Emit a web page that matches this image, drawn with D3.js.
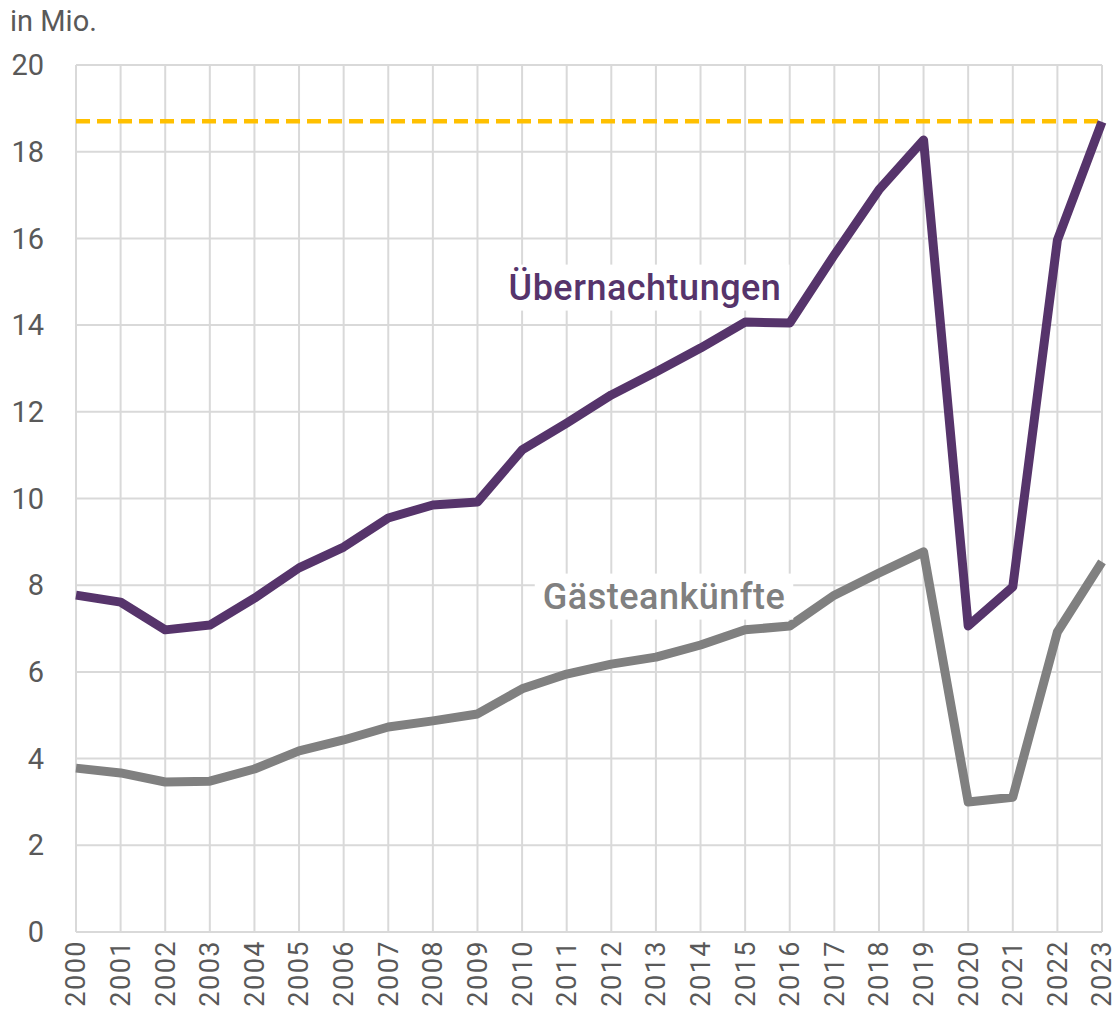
<!DOCTYPE html>
<html>
<head>
    <meta charset="UTF-8">
    <title>Übernachtungen und Gästeankünfte</title>
    <script src="https://d3js.org/d3.v7.min.js"></script>
    <style>
        body { margin: 0; padding: 0; background: #fff; font-family: Roboto, "Noto Sans", Arial, sans-serif; }
        svg { display: block; }
        .grid line { stroke: #d9d9d9; stroke-width: 2px; }
        .tick-label { fill: #595959; font-size: 29px; }
    </style>
</head>
<body>
    <svg id="chart" width="1112" height="1011"></svg>
    <script>
        // Daten (in Mio.)
        const years = d3.range(2000, 2024);
        const uebernachtungen = [7.77, 7.61, 6.97, 7.08, 7.70, 8.40, 8.88, 9.55, 9.85, 9.92,
            11.12, 11.74, 12.39, 12.92, 13.47, 14.07, 14.05, 15.62, 17.12, 18.27,
            7.06, 7.96, 15.96, 18.69];
        const gaesteankuenfte = [3.78, 3.67, 3.46, 3.48, 3.76, 4.18, 4.43, 4.73, 4.87, 5.03,
            5.61, 5.95, 6.18, 6.34, 6.62, 6.97, 7.06, 7.77, 8.28, 8.77,
            3.00, 3.11, 6.92, 8.54];
        const rekord = 18.7;
        const yTicks = [0, 2, 4, 6, 8, 10, 12, 14, 16, 18, 20];

        const svg = d3.select("#chart");
        const margin = { left: 76, right: 10, top: 65, bottom: 79 };
        const width = 1112, height = 1011;

        const x = d3.scaleLinear()
            .domain([2000, 2023])
            .range([margin.left, width - margin.right]);
        const y = d3.scaleLinear()
            .domain([0, 20])
            .range([height - margin.bottom, margin.top]);

        // Gitternetz
        const grid = svg.append("g").attr("class", "grid");
        grid.selectAll("line.h")
            .data(yTicks)
            .join("line")
            .attr("class", "h")
            .attr("x1", x(2000)).attr("x2", x(2023))
            .attr("y1", d => y(d)).attr("y2", d => y(d));
        grid.selectAll("line.v")
            .data(years)
            .join("line")
            .attr("class", "v")
            .attr("x1", d => x(d)).attr("x2", d => x(d))
            .attr("y1", y(0)).attr("y2", y(20));

        // y-Achse Beschriftung
        svg.append("g")
            .selectAll("text")
            .data(yTicks)
            .join("text")
            .attr("class", "tick-label")
            .attr("x", 44)
            .attr("y", d => y(d))
            .attr("dy", "0.35em")
            .attr("text-anchor", "end")
            .text(d => d);

        // x-Achse Beschriftung (gedreht)
        svg.append("g")
            .selectAll("text")
            .data(years)
            .join("text")
            .attr("class", "tick-label")
            .attr("transform", d => `translate(${x(d)},${y(0) + 8}) rotate(-90)`)
            .attr("dy", "0.35em")
            .attr("text-anchor", "end")
            .style("font-size", "27px")
            .style("letter-spacing", "1.5px")
            .text(d => d);

        svg.append("text")
            .attr("class", "tick-label")
            .attr("x", 10)
            .attr("y", 31)
            .text("in Mio.");

        // Rekordlinie
        svg.append("line")
            .attr("x1", x(2000)).attr("x2", x(2023))
            .attr("y1", y(rekord)).attr("y2", y(rekord))
            .attr("stroke", "#ffc000")
            .attr("stroke-width", 4.5)
            .attr("stroke-dasharray", "14 7");

        // Beschriftungen mit weißem Hintergrund
        function label(text, cx, cy, color) {
            const g = svg.append("g");
            const t = g.append("text")
                .attr("x", cx)
                .attr("y", cy)
                .attr("dy", "0.35em")
                .attr("text-anchor", "middle")
                .attr("fill", color)
                .style("font-size", "36px")
                .style("font-weight", 500)
                .style("letter-spacing", "0.5px")
                .text(text);
            const bb = t.node().getBBox();
            g.insert("rect", "text")
                .attr("x", bb.x - 8).attr("y", bb.y - 2)
                .attr("width", bb.width + 16).attr("height", bb.height + 4)
                .attr("fill", "#fff");
        }

        const line = d3.line()
            .x((d, i) => x(years[i]))
            .y(d => y(d));

        svg.append("path")
            .datum(gaesteankuenfte)
            .attr("fill", "none")
            .attr("stroke", "#808080")
            .attr("stroke-width", 9)
            .attr("stroke-linejoin", "round")
            .attr("d", line);

        svg.append("path")
            .datum(uebernachtungen)
            .attr("fill", "none")
            .attr("stroke", "#56346b")
            .attr("stroke-width", 9)
            .attr("stroke-linejoin", "round")
            .attr("d", line);

        label("Übernachtungen", 645, 287, "#56346b");
        label("Gästeankünfte", 664, 596, "#808080");
    </script>
</body>
</html>
